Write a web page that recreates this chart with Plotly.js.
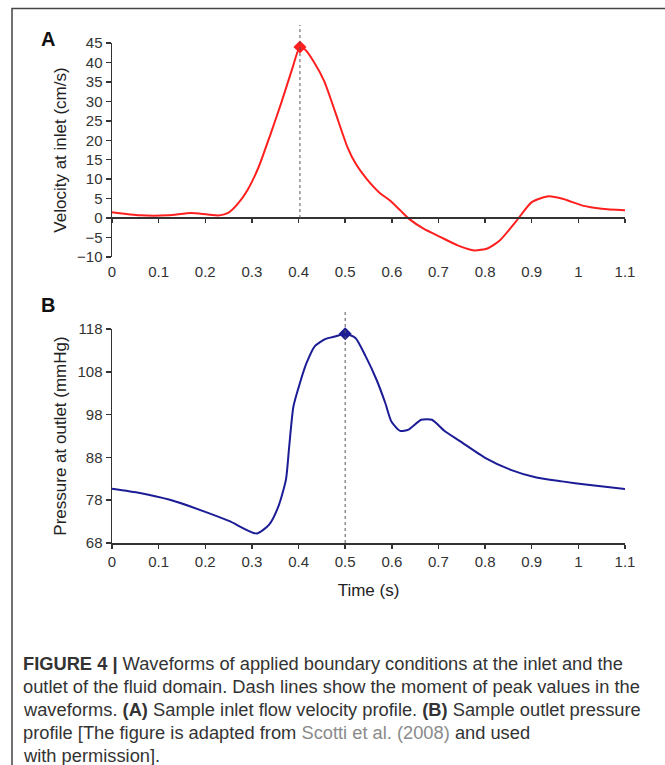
<!DOCTYPE html>
<html>
<head>
<meta charset="utf-8">
<script src="https://cdn.plot.ly/plotly-3.0.1.min.js"></script>
<style>html,body{margin:0;padding:0;background:#fff;}#chart{width:665px;height:765px;}</style>
</head>
<body>
<div id="chart"></div>
<script>
// ---- Data ----
const timeA = [0, 0.06, 0.12, 0.17, 0.205, 0.23, 0.25, 0.27, 0.29, 0.314, 0.34, 0.364, 0.387, 0.403, 0.414, 0.432, 0.455, 0.478, 0.505, 0.523, 0.546, 0.573, 0.596, 0.618, 0.637, 0.668, 0.705, 0.741, 0.777, 0.805, 0.832, 0.868, 0.9, 0.936, 0.968, 1.009, 1.05, 1.1];
const velocity = [1.5, 0.7, 0.7, 1.3, 0.9, 0.7, 1.4, 3.7, 7.1, 13, 21.6, 30, 38.6, 44, 43.3, 40.3, 35.2, 27.5, 18.2, 13.9, 10.1, 6.6, 4.5, 2, -0.2, -2.7, -4.9, -7, -8.3, -7.8, -5.7, -0.6, 4.1, 5.6, 4.9, 3.2, 2.4, 2.0];

const timeB = [0, 0.06, 0.124, 0.197, 0.252, 0.31, 0.337, 0.357, 0.373, 0.38, 0.389, 0.403, 0.417, 0.435, 0.458, 0.48, 0.5, 0.522, 0.544, 0.567, 0.586, 0.599, 0.618, 0.636, 0.663, 0.686, 0.714, 0.746, 0.8, 0.855, 0.91, 0.965, 1.02, 1.1];
const pressure = [80.7, 79.7, 78.1, 75.4, 73.1, 70.2, 72.3, 76.6, 82.8, 90.6, 99.9, 105.4, 110, 114, 115.7, 116.3, 116.9, 115.9, 111.6, 106.2, 100.7, 96.4, 94.2, 94.5, 96.8, 96.8, 94.1, 91.8, 87.9, 85.1, 83.3, 82.4, 81.6, 80.6];

const xTickVals = [0, 0.1, 0.2, 0.3, 0.4, 0.5, 0.6, 0.7, 0.8, 0.9, 1, 1.1];
const xTickText = ['0', '0.1', '0.2', '0.3', '0.4', '0.5', '0.6', '0.7', '0.8', '0.9', '1', '1.1'];
const yTickValsA = [-10, -5, 0, 5, 10, 15, 20, 25, 30, 35, 40, 45];
const yTickTextA = ['\u221210', '\u22125', '0', '5', '10', '15', '20', '25', '30', '35', '40', '45'];
const yTickValsB = [68, 78, 88, 98, 108, 118];
const yTickTextB = ['68', '78', '88', '98', '108', '118'];

const captionLines = [
  '<b>FIGURE 4 |</b> Waveforms of applied boundary conditions at the inlet and the',
  'outlet of the fluid domain. Dash lines show the moment of peak values in the',
  'waveforms. <b>(A)</b> Sample inlet flow velocity profile. <b>(B)</b> Sample outlet pressure',
  'profile [The figure is adapted from <span style="color:#8a8a8a">Scotti et al. (2008)</span> and used',
  'with permission].'
];

// ---- Helpers ----
const W = 665, H = 765;
const px = v => v / W;
const py = v => 1 - v / H;
function argmax(a) { let m = 0; for (let i = 1; i < a.length; i++) if (a[i] > a[m]) m = i; return m; }
const iA = argmax(velocity), iB = argmax(pressure);

const xDom = [px(112), px(625)];
const yDomA = [py(257), py(43)];
const yDomB = [py(543), py(329)];
const rangeA = [-10, 45];
const zeroPos = yDomA[0] + (yDomA[1] - yDomA[0]) * (0 - rangeA[0]) / (rangeA[1] - rangeA[0]);

const FAM = 'Liberation Sans, Arial, sans-serif';
const tickFont = {family: FAM, size: 15, color: '#333'};
const titleFont = {family: FAM, size: 17, color: '#222'};
const red = '#ff1f1f', navy = '#1c1c96';

const traces = [
  {x: timeA, y: velocity, type: 'scatter', mode: 'lines', line: {color: red, width: 2, shape: 'spline', smoothing: 0.6}, xaxis: 'x', yaxis: 'y', hoverinfo: 'skip'},
  {x: [timeA[iA]], y: [velocity[iA]], type: 'scatter', mode: 'markers', marker: {symbol: 'diamond', size: 10, color: red}, xaxis: 'x', yaxis: 'y', cliponaxis: false},
  {x: [], y: [], type: 'scatter', mode: 'lines', xaxis: 'x3', yaxis: 'y', hoverinfo: 'skip'},
  {x: timeB, y: pressure, type: 'scatter', mode: 'lines', line: {color: navy, width: 2, shape: 'spline', smoothing: 0.6}, xaxis: 'x2', yaxis: 'y2', hoverinfo: 'skip'},
  {x: [timeB[iB]], y: [pressure[iB]], type: 'scatter', mode: 'markers', marker: {symbol: 'diamond', size: 10, color: navy}, xaxis: 'x2', yaxis: 'y2', cliponaxis: false}
];

const baseY = {showgrid: false, zeroline: false, showline: true, linecolor: '#333', linewidth: 1.5, ticks: 'outside', ticklen: 5, tickwidth: 1.5, tickcolor: '#333', tickfont: tickFont, automargin: false, fixedrange: true};

const layout = {
  width: W, height: H,
  margin: {l: 0, r: 0, t: 0, b: 0},
  paper_bgcolor: '#fff', plot_bgcolor: 'rgba(0,0,0,0)',
  showlegend: false,
  xaxis: {domain: xDom, range: [0, 1.1], anchor: 'y', showgrid: false, zeroline: false, showline: false, ticks: 'outside', ticklen: 1, tickcolor: 'rgba(0,0,0,0)', tickvals: xTickVals, ticktext: xTickText, tickfont: tickFont, automargin: false, fixedrange: true},
  xaxis3: {domain: xDom, range: [0, 1.1], overlaying: 'x', anchor: 'free', position: zeroPos, side: 'bottom', showgrid: false, zeroline: false, showline: true, linecolor: '#333', linewidth: 2, ticks: 'outside', ticklen: 4, tickwidth: 1.5, tickcolor: '#333', tickvals: xTickVals, showticklabels: false, automargin: false, fixedrange: true},
  yaxis: Object.assign({}, baseY, {domain: yDomA, range: rangeA, anchor: 'x', tickvals: yTickValsA, ticktext: yTickTextA, title: {text: 'Velocity at inlet (cm/s)', font: titleFont, standoff: 6}}),
  xaxis2: {domain: xDom, range: [0, 1.1], anchor: 'y2', showgrid: false, zeroline: false, showline: true, linecolor: '#333', linewidth: 1.5, ticks: 'outside', ticklen: 4, tickwidth: 1.5, tickcolor: '#333', tickvals: xTickVals, ticktext: xTickText, tickfont: tickFont, automargin: false, fixedrange: true, title: {text: 'Time (s)', font: titleFont, standoff: 15}},
  yaxis2: Object.assign({}, baseY, {domain: yDomB, range: [68, 118], anchor: 'x2', tickvals: yTickValsB, ticktext: yTickTextB, title: {text: 'Pressure at outlet (mmHg)', font: titleFont, standoff: 6}}),
  shapes: [
    {type: 'rect', xref: 'paper', yref: 'paper', x0: px(12), x1: 1.05, y0: -0.05, y1: py(8.5), line: {color: '#444', width: 1.5}, layer: 'below'},
    {type: 'line', xref: 'x', yref: 'paper', x0: timeA[iA], x1: timeA[iA], y0: zeroPos, y1: py(25), line: {color: '#555', width: 1, dash: 'dot'}},
    {type: 'line', xref: 'x2', yref: 'paper', x0: timeB[iB], x1: timeB[iB], y0: yDomB[0], y1: py(312), line: {color: '#555', width: 1, dash: 'dot'}}
  ],
  annotations: [
    {text: '<b>A</b>', xref: 'paper', yref: 'paper', x: px(48), y: py(39), xanchor: 'center', yanchor: 'middle', showarrow: false, font: {family: FAM, size: 20, color: '#111'}},
    {text: '<b>B</b>', xref: 'paper', yref: 'paper', x: px(48), y: py(305), xanchor: 'center', yanchor: 'middle', showarrow: false, font: {family: FAM, size: 20, color: '#111'}}
  ]
};

const capY = [663, 686, 709, 732, 755];
captionLines.forEach((t, i) => {
  layout.annotations.push({text: t, xref: 'paper', yref: 'paper', x: px(21), y: py(capY[i]), xanchor: 'left', yanchor: 'middle', align: 'left', showarrow: false, font: {family: FAM, size: 18.3, color: '#333'}});
});

Plotly.newPlot('chart', traces, layout, {staticPlot: true, displayModeBar: false});
</script>
</body>
</html>
